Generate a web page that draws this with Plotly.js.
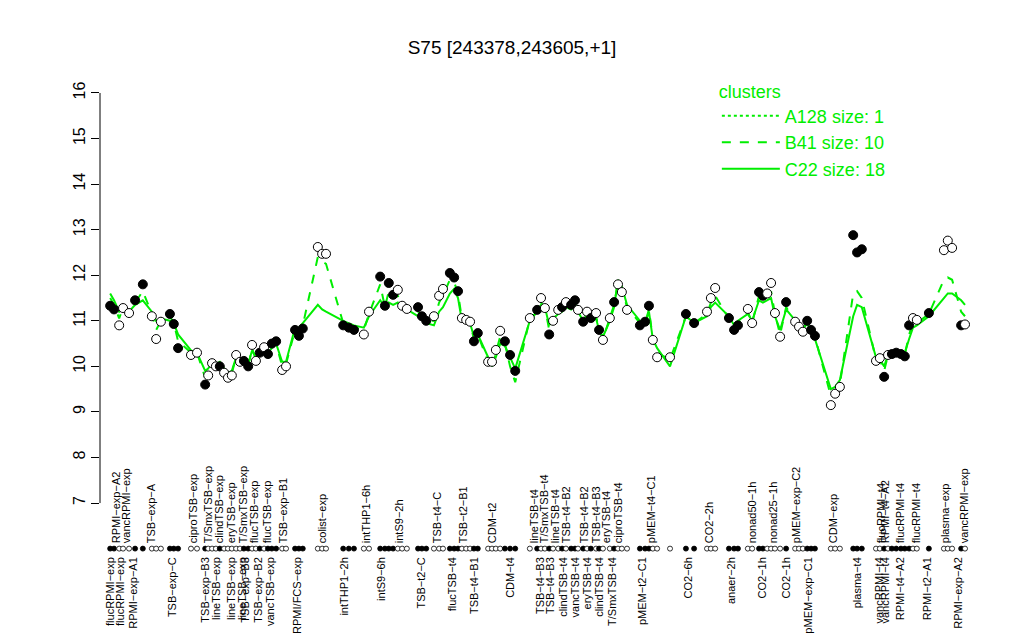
<!DOCTYPE html>
<html><head><meta charset="utf-8">
<script src="https://cdn.plot.ly/plotly-3.0.1.min.js"></script>
<style>body{margin:0;background:#fff}#chart{width:1024px;height:640px}</style>
</head><body><div id="chart"></div>
<script>
// sample positions along the condition axis
var sampleX = [
0.5,1.4,2.6,3.5,4.9,6.3,8.1,10.2,11.2,12.3,
14.4,15.3,16.3,19.3,20.7,22.6,23.3,24.2,25.1,26.0,
27.0,27.9,28.8,29.8,30.7,31.6,32.6,33.5,34.4,35.3,
36.3,37.2,38.1,39.1,40.5,41.4,43.5,44.4,45.3,48.8,
49.8,50.7,54.7,56.0,57.2,59.5,60.7,63.3,64.4,65.3,
66.3,67.4,68.4,69.5,72.1,73.0,74.0,75.8,77.0,77.9,
79.5,80.5,81.4,82.3,83.3,84.2,85.1,86.0,88.4,89.3,
90.2,91.2,92.3,93.5,94.7,98.1,99.8,100.7,101.6,102.6,
103.5,104.7,105.6,106.5,107.7,108.6,109.3,110.5,111.4,112.3,
113.5,114.2,115.1,116.7,117.7,118.6,119.5,120.7,123.7,124.9,
125.8,126.7,127.7,130.7,134.4,136.3,139.3,140.2,141.2,144.4,
145.6,146.5,148.8,149.8,151.4,152.3,153.3,154.2,155.1,156.3,
157.7,159.8,160.7,161.6,162.6,163.5,164.4,168.1,169.1,170.2,
173.3,174.2,175.3,178.6,179.5,180.5,181.4,182.3,183.3,184.4,
185.3,186.3,187.2,188.1,190.9,194.4,195.3,196.3,198.4,199.3];

// expression values of S75
var sampleVal = [
11.33,11.25,10.90,11.28,11.17,11.45,11.80,11.10,10.60,10.98,
11.15,10.93,10.40,10.25,10.30,9.60,9.80,10.07,10.00,10.00,
9.86,9.75,9.80,10.25,10.10,10.12,10.00,10.47,10.12,10.30,
10.42,10.27,10.50,10.55,9.92,10.00,10.80,10.67,10.83,12.62,
12.47,12.47,10.90,10.85,10.80,10.70,11.20,11.97,11.33,11.83,
11.57,11.68,11.33,11.26,11.30,11.10,11.00,11.10,11.55,11.70,
12.05,11.95,11.65,11.06,11.02,10.98,10.55,10.73,10.10,10.10,
10.36,10.78,10.55,10.25,9.90,11.06,11.24,11.50,11.28,10.70,
11.00,11.24,11.30,11.41,11.35,11.45,11.24,10.98,11.20,11.06,
11.17,10.80,10.58,11.06,11.41,11.80,11.63,11.24,10.90,10.98,
11.33,10.58,10.20,10.20,11.15,10.95,11.20,11.50,11.72,11.06,
10.80,10.90,11.26,10.95,11.63,11.55,11.60,11.83,11.17,10.65,
11.41,10.98,10.87,10.76,11.00,10.80,10.67,9.15,9.40,9.55,
12.88,12.50,12.57,10.12,10.18,9.77,10.25,10.27,10.30,10.27,
10.22,10.90,11.06,11.02,11.17,12.55,12.76,12.60,10.90,10.92];

// 1 = filled marker, 0 = open marker
var sampleFilled = [
1,1,0,0,0,1,1,0,0,0,
1,1,1,0,0,1,0,0,0,1,
0,0,0,0,0,1,1,0,0,1,
0,1,1,1,0,0,1,1,1,0,
0,0,1,1,1,0,0,1,1,1,
1,0,0,0,1,1,1,0,0,0,
1,1,1,0,0,0,1,1,0,0,
0,0,1,1,1,0,1,0,0,1,
0,0,1,0,1,1,0,1,0,1,
0,1,0,0,1,0,0,0,1,1,
1,0,0,0,1,1,0,0,0,1,
1,1,0,0,1,1,0,0,0,0,
1,0,0,0,1,1,1,0,0,0,
1,1,1,0,0,1,0,1,1,1,
1,1,0,0,1,0,0,0,1,0];

// cluster C22 (size 18) profile
var clusterC22 = [
11.6,11.45,11.2,11.3,11.2,11.35,11.45,11.2,11.0,11.05,
11.0,10.95,10.7,10.35,10.3,9.9,9.95,10.1,10.05,10.1,
9.95,9.85,9.9,10.2,10.1,10.15,10.05,10.35,10.2,10.3,
10.35,10.3,10.4,10.5,10.1,10.1,10.85,10.85,10.95,11.35,
11.25,11.2,11.0,10.95,10.9,10.85,11.1,11.45,11.3,11.4,
11.35,11.4,11.3,11.25,11.1,11.05,10.95,10.9,11.2,11.3,
11.6,11.7,11.5,11.0,11.0,10.95,10.65,10.7,10.2,10.0,
10.2,10.5,10.45,10.2,9.95,11.0,11.2,11.35,11.3,10.9,
11.05,11.15,11.2,11.3,11.25,11.35,11.2,11.0,11.1,11.0,
11.05,10.8,10.65,11.0,11.3,11.9,11.75,11.35,11.0,10.95,
11.2,10.6,10.4,10.0,11.1,10.95,11.1,11.3,11.4,11.1,
10.9,11.0,11.15,11.0,11.45,11.4,11.45,11.5,11.1,10.8,
11.25,11.0,10.9,10.8,10.95,10.75,10.6,9.5,9.55,9.7,
11.1,11.35,11.3,10.2,10.15,10.0,10.25,10.3,10.3,10.3,
10.3,10.6,10.85,10.9,11.1,11.5,11.6,11.6,11.45,11.35];

// cluster B41 (size 10) profile
var clusterB41 = [
11.5,11.35,11.05,11.3,11.2,11.4,11.65,11.15,10.8,11.0,
11.1,10.95,10.55,10.3,10.3,9.75,9.85,10.1,10.0,10.05,
9.9,9.8,9.85,10.2,10.1,10.15,10.0,10.4,10.15,10.3,
10.4,10.3,10.45,10.5,10.0,10.05,10.8,10.75,10.9,12.4,
12.3,12.25,10.95,10.85,10.85,10.8,11.15,11.8,11.3,11.65,
11.5,11.55,11.3,11.25,11.2,11.1,11.0,11.0,11.4,11.55,
11.9,11.85,11.6,11.05,11.0,10.95,10.6,10.7,10.1,9.95,
10.3,10.65,10.5,10.0,9.65,11.05,11.2,11.4,11.3,10.8,
11.0,11.2,11.25,11.35,11.3,11.4,11.2,11.0,11.15,11.05,
11.1,10.8,10.6,11.05,11.35,11.85,11.7,11.3,10.95,10.95,
11.25,10.6,10.3,10.15,11.1,10.95,11.15,11.4,11.55,11.05,
10.85,10.95,11.2,10.95,11.55,11.5,11.5,11.65,11.15,10.7,
11.3,11.0,10.9,10.8,11.0,10.8,10.65,9.35,9.45,9.6,
11.6,11.65,11.5,10.15,10.15,9.9,10.25,10.3,10.3,10.3,
10.25,10.7,10.95,10.95,11.15,11.9,11.95,11.9,11.2,11.1];

// cluster A128 (size 1): no visible profile in the reference (legend entry only)
var clusterA128 = [null];

var bottomLabels = ["flucRPMI\u2212exp","flucRPMI\u2212exp","RPMI\u2212exp\u2212A1","TSB\u2212exp\u2212C","TSB\u2212exp\u2212B3","lineTSB\u2212exp","lineTSB\u2212exp","lineTSB\u2212exp","TSB\u2212exp\u2212B3","TSB\u2212exp\u2212B2","vancTSB\u2212exp","RPMI/FCS\u2212exp","intTHP1\u22122h","intS9\u22126h","TSB\u2212t2\u2212C","flucTSB\u2212t4","TSB\u2212t4\u2212B1","CDM\u2212t4","TSB\u2212t4\u2212B3","TSB\u2212t4\u2212B3","clindTSB\u2212t4","vancTSB\u2212t4","eryTSB\u2212t4","clindTSB\u2212t4","T/SmxTSB\u2212t4","pMEM\u2212t2\u2212C1","CO2\u22126h","anaer\u22122h","CO2\u22121h","CO2\u22121h","pMEM\u2212exp\u2212C1","plasma\u2212t4","vancRPMI\u2212t4","vancRPMI\u2212t4","RPMI\u2212t4\u2212A2","RPMI\u2212t2\u2212A1","RPMI\u2212exp\u2212A2"];
var bottomPos = [0.5,2.8,5.8,15.1,22.6,25.3,28.6,31.2,31.9,34.9,37.7,44.0,55.1,63.5,73.0,80.0,85.1,93.5,100.5,103.0,105.8,108.6,111.6,114.4,117.2,124.4,134.9,144.9,152.3,157.7,162.8,174.4,179.5,180.9,184.2,190.5,197.7];

var topLabels = ["RPMI\u2212exp\u2212A2","vancRPMI\u2212exp","TSB\u2212exp\u2212A","ciproTSB\u2212exp","T/SmxTSB\u2212exp","clindTSB\u2212exp","eryTSB\u2212exp","T/SmxTSB\u2212exp","flucTSB\u2212exp","flucTSB\u2212exp","TSB\u2212exp\u2212B1","colist\u2212exp","intTHP1\u22126h","intS9\u22122h","TSB\u2212t4\u2212C","TSB\u2212t2\u2212B1","CDM\u2212t2","lineTSB\u2212t4","T/SmxTSB\u2212t4","lineTSB\u2212t4","TSB\u2212t4\u2212B2","TSB\u2212t4\u2212B2","TSB\u2212t4\u2212B3","eryTSB\u2212t4","ciproTSB\u2212t4","pMEM\u2212t4\u2212C1","CO2\u22122h","nonad50\u22121h","nonad25\u22121h","pMEM\u2212exp\u2212C2","CDM\u2212exp","flucRPMI\u2212t4","RPMI\u2212t4\u2212A2","flucRPMI\u2212t4","flucRPMI\u2212t4","plasma\u2212exp","vancRPMI\u2212exp"];
var topPos = [1.9,4.4,10.2,19.8,23.3,25.8,28.6,31.4,34.0,37.0,40.7,49.8,60.0,67.7,76.5,82.6,89.5,99.1,101.4,104.0,106.5,110.7,113.5,116.0,118.8,126.3,139.8,149.8,154.7,160.2,168.6,179.8,180.9,184.4,187.9,194.7,199.1];

var yTicks = [7,8,9,10,11,12,13,14,15,16];
var DOT_ROW = 6;

var GREEN = "#00ee00";
var FONT = "Liberation Sans, Arial, Helvetica, sans-serif";

var markerColors = sampleFilled.map(function(f){return f ? "#000000" : "#ffffff";});

var traces = [
  {x: [sampleX[0]], y: clusterA128, mode: "lines", name: "A128 size: 1",
   line: {color: GREEN, width: 2, dash: "dot"}, hoverinfo: "skip"},
  {x: sampleX, y: clusterB41, mode: "lines", name: "B41 size: 10",
   line: {color: GREEN, width: 2, dash: "dash"}, hoverinfo: "skip"},
  {x: sampleX, y: clusterC22, mode: "lines", name: "C22 size: 18",
   line: {color: GREEN, width: 2}, hoverinfo: "skip"},
  {x: sampleX, y: sampleVal, mode: "markers", showlegend: false,
   marker: {size: 9, color: markerColors, line: {color: "#000", width: 1}}},
  {x: sampleX, y: sampleX.map(function(){return DOT_ROW;}), mode: "markers", showlegend: false,
   marker: {size: 5, color: markerColors, line: {color: "#000", width: 0.8}}},
  {x: [topPos[0]], y: [DOT_ROW], xaxis: "x2", mode: "markers", showlegend: false,
   marker: {size: 1, opacity: 0}, hoverinfo: "skip"}
];

var layout = {
  width: 1024, height: 640,
  margin: {l: 100, r: 39, t: 80, b: 80},
  paper_bgcolor: "#fff", plot_bgcolor: "#fff",
  font: {family: FONT, color: "#000"},
  title: {text: "S75 [243378,243605,+1]", x: 0.5, xref: "container", xanchor: "center",
          y: 1 - 47/640, yref: "container", yanchor: "middle",
          font: {size: 19, family: FONT, color: "#000"}},
  showlegend: true,
  legend: {x: 0.697, y: 1.012, xanchor: "left", yanchor: "top", bgcolor: "rgba(0,0,0,0)",
           font: {size: 18, color: GREEN, family: FONT}, traceorder: "normal",
           title: {text: "clusters", side: "top", font: {size: 18, color: GREEN, family: FONT}},
           itemwidth: 58, tracegroupgap: 0},
  xaxis: {range: [-1.86, 203.95], anchor: "free", position: 0.0125,
          tickmode: "array", tickvals: bottomPos, ticktext: bottomLabels,
          tickangle: -90, tickfont: {size: 11, family: FONT}, ticks: "",
          showline: false, showgrid: false, zeroline: false, automargin: false},
  xaxis2: {range: [-1.86, 203.95], overlaying: "x", side: "top", anchor: "free", position: 0.035,
          tickmode: "array", tickvals: topPos, ticktext: topLabels,
          tickangle: -90, tickfont: {size: 11, family: FONT}, ticks: "",
          showline: false, showgrid: false, zeroline: false, automargin: false},
  yaxis: {range: [5.75, 16.285], tickmode: "array", tickvals: yTicks,
          ticks: "outside", ticklen: 8, tickwidth: 1, tickcolor: "#000",
          tickangle: -90, tickfont: {size: 16, family: FONT},
          showline: false, showgrid: false, zeroline: false, automargin: false},
  shapes: [{type: "line", xref: "paper", x0: 0, x1: 0, yref: "y", y0: yTicks[0], y1: yTicks[yTicks.length-1],
            line: {color: "#000", width: 1}}]
};

Plotly.newPlot("chart", traces, layout, {staticPlot: true, displayModeBar: false});
</script>
</body></html>
